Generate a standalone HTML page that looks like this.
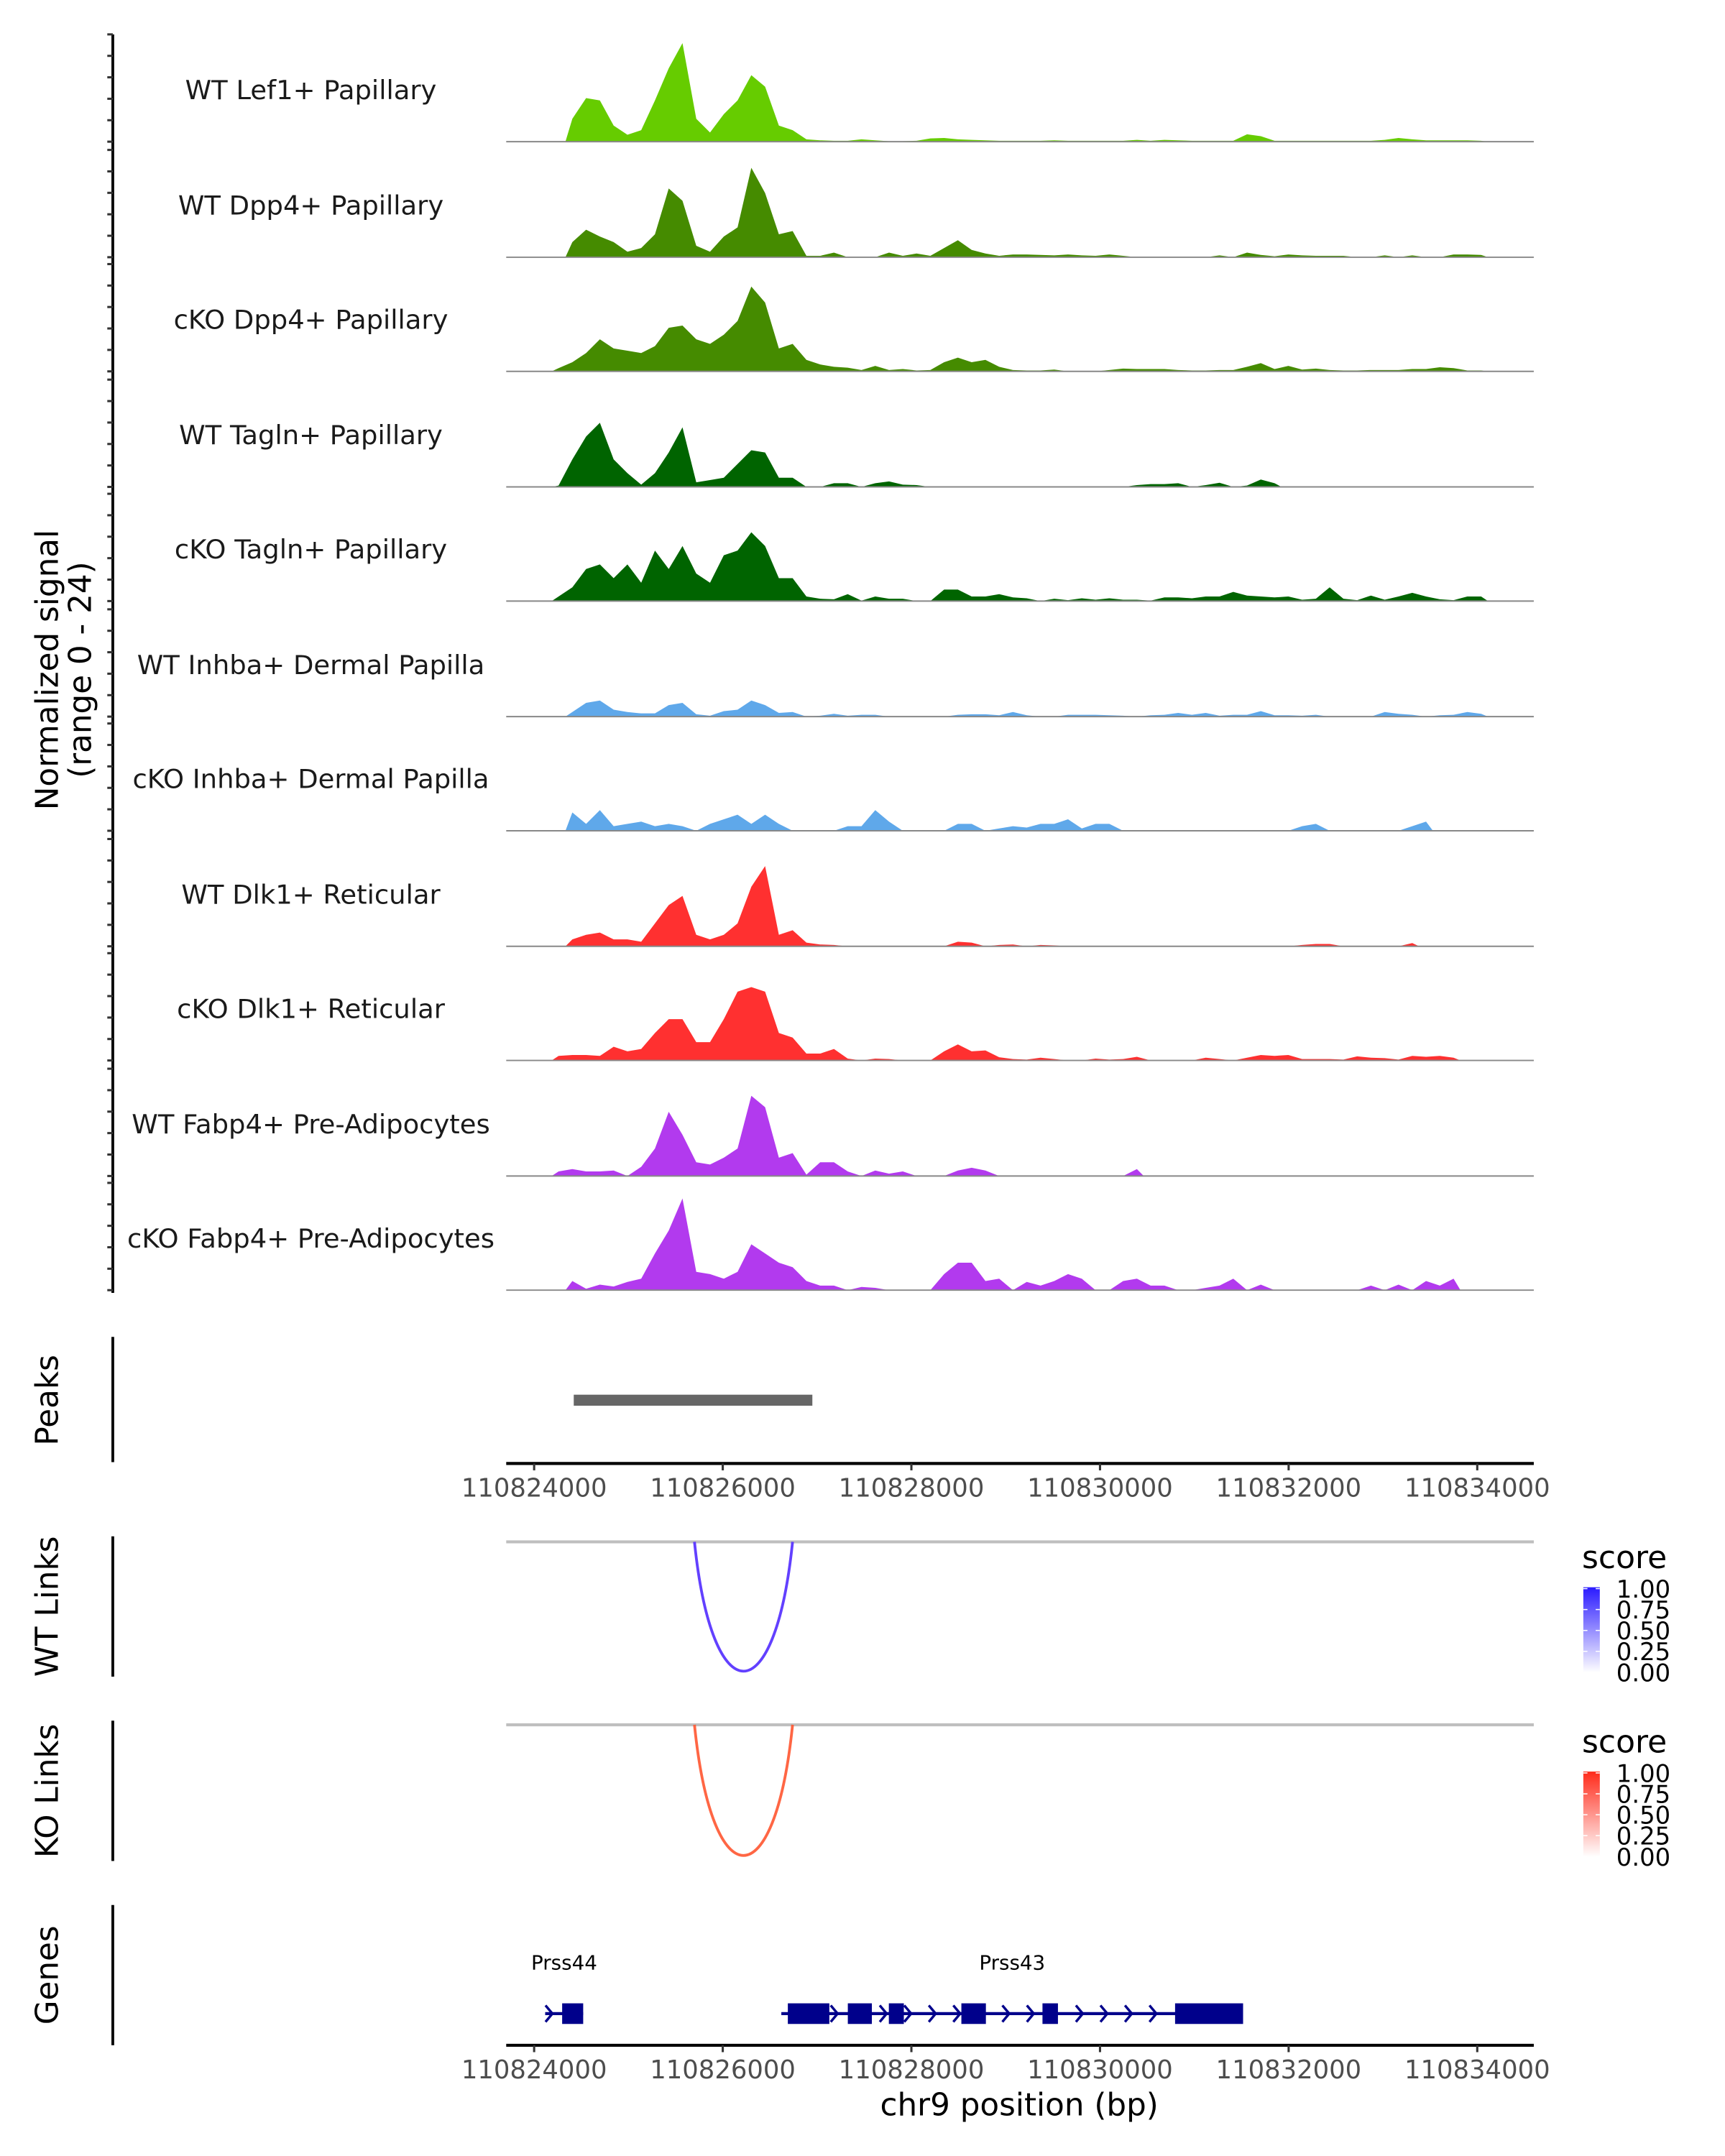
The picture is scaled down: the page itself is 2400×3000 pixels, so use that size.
<!DOCTYPE html>
<html><head><meta charset="utf-8"><title>Coverage plot</title>
<style>
html,body{margin:0;padding:0;background:#fff;}
svg{display:block;}
text{font-family:"DejaVu Sans","Liberation Sans",sans-serif;}
</style></head>
<body>
<svg id="fig" xmlns="http://www.w3.org/2000/svg" width="2400" height="3000" viewBox="0 0 1254 1567.5">
<defs>
<linearGradient id="gBlue" x1="0" y1="1" x2="0" y2="0"><stop offset="0" stop-color="#ffffff"/><stop offset="1" stop-color="#2a1aff"/></linearGradient>
<linearGradient id="gRed" x1="0" y1="1" x2="0" y2="0"><stop offset="0" stop-color="#ffffff"/><stop offset="1" stop-color="#ff2a1a"/></linearGradient>
</defs>
</svg>
<script>
// ---------- data ----------
const trackNames = ["WT Lef1+ Papillary","WT Dpp4+ Papillary","cKO Dpp4+ Papillary","WT Tagln+ Papillary","cKO Tagln+ Papillary","WT Inhba+ Dermal Papilla","cKO Inhba+ Dermal Papilla","WT Dlk1+ Reticular","cKO Dlk1+ Reticular","WT Fabp4+ Pre-Adipocytes","cKO Fabp4+ Pre-Adipocytes"];
const trackColors = ["#66cc00","#458b00","#458b00","#006400","#006400","#5fa8ea","#5fa8ea","#ff3030","#ff3030","#b23aee","#b23aee"];
const binStartBp = 110823821;
const binSizeBp = 146;
const sigLef1WT = [0,0,0,0,5,9.5,9,3.5,1.5,2.5,9,16,21.5,5,2,6,9,14.5,12,3.5,2.5,0.5,0.3,0.2,0.2,0.5,0.3,0.1,0.1,0.2,0.7,0.8,0.5,0.4,0.3,0.2,0.2,0.2,0.2,0.3,0.2,0.2,0.2,0.2,0.2,0.4,0.2,0.4,0.3,0.2,0.2,0.2,0.2,1.6,1.2,0.2,0.2,0.2,0.2,0.2,0.2,0.2,0.2,0.4,0.8,0.5,0.3,0.3,0.3,0.3,0.2];
const sigDpp4WT = [0,0,0,0,3.3,6,4.5,3.3,1.2,2,5,15,12.3,2.5,1.2,4.5,6.5,19.5,14,5,5.7,0.3,0.3,1,0,0,0,1,0.3,0.8,0.3,2,3.7,1.6,0.8,0.3,0.6,0.6,0.5,0.4,0.6,0.4,0.3,0.6,0.3,0,0,0,0,0,0,0.4,0,1,0.5,0.2,0.6,0.4,0.3,0.3,0.3,0,0,0.4,0,0.4,0,0,0.6,0.6,0.5];
const sigDpp4KO = [0,0,0,0.7,2,4,7,5,4.5,4,5.5,9.5,10,7,6,8,11,18.5,15,5,6,2.5,1.5,1,0.8,0.3,1.2,0.3,0.5,0.2,0.3,2,3,2,2.5,1,0.3,0.2,0.2,0.4,0,0,0,0.3,0.6,0.5,0.5,0.5,0.3,0.2,0.2,0.3,0.3,1,1.8,0.5,1.2,0.4,0.6,0.3,0.2,0.2,0.3,0.3,0.3,0.5,0.5,0.9,0.7,0.2,0.2];
const sigTaglnWT = [0,0,0,0.3,6,11,14,6,3,0.5,3,7.5,13,1,1.5,2,5,8,7.5,2,2,0,0,0.8,0.8,0,0.8,1.2,0.5,0.4,0,0,0,0,0,0,0,0,0,0,0,0,0,0,0,0.4,0.6,0.6,0.8,0,0.4,0.9,0,0.3,1.6,0.8,0,0,0,0,0,0,0,0,0,0,0,0,0,0,0];
const sigTaglnKO = [0,0,0,1,3,7,8,5,8,4,11,7,12,6,4,10,11,15,12,5,5,1,0.5,0.4,1.5,0.1,1,0.5,0.5,0,0,2.5,2.5,1,1,1.5,0.8,0.6,0,0.5,0.2,0.6,0.3,0.6,0.3,0.3,0.1,0.8,0.8,0.6,1,1,2,1.2,1,0.8,1,0.3,0.5,3,0.5,0.2,1.2,0.3,1,1.8,1,0.4,0.2,1,1];
const sigInhbaWT = [0,0,0,0,1,3,3.5,1.5,1,0.7,0.7,2.5,3,0.5,0.2,1.2,1.5,3.5,2.5,0.8,1,0,0.2,0.6,0.2,0.4,0.4,0,0,0,0,0,0.4,0.5,0.5,0.3,1,0.3,0,0,0.4,0.4,0.4,0.3,0.2,0,0.3,0.4,0.8,0.4,0.8,0.2,0.4,0.4,1.2,0.3,0.3,0.2,0.4,0,0,0,0,1,0.6,0.4,0,0.3,0.4,1,0.6];
const sigInhbaKO = [0,0,0,0,4,1.5,4.5,1,1.5,2,1,1.5,1,0,1.5,2.5,3.5,1.5,3.5,1.5,0,0,0,0,1,1,4.5,2,0,0,0,0,1.5,1.5,0,0.5,1,0.7,1.5,1.5,2.5,0.5,1.5,1.5,0,0,0,0,0,0,0,0,0,0,0,0,0,1,1.5,0,0,0,0,0,0,1,2,0,0,0,0];
const sigDlk1WT = [0,0,0,0,1.5,2.5,3,1.5,1.5,1,5,9,11,2.5,1.5,2.5,5,13,17.5,2.5,3.5,0.8,0.4,0.3,0,0,0,0,0,0,0,0,1,0.8,0,0.3,0.4,0,0.3,0.2,0,0,0,0,0,0,0,0,0,0,0,0,0,0,0,0,0,0.3,0.5,0.5,0,0,0,0,0,0.7,0,0,0,0,0];
const sigDlk1KO = [0,0,0,1,1.2,1.2,1,3,2,2.5,6,9,9,4,4,9,15,16,15,6,5,1.5,1.5,2.5,0.4,0,0.4,0.3,0,0,0,2,3.5,2,2.2,0.7,0.3,0.2,0.6,0.3,0,0,0.4,0.2,0.3,0.8,0,0,0,0,0.6,0.3,0,0.6,1.2,1,1.2,0.3,0.3,0.3,0.2,0.9,0.6,0.5,0.2,1,0.8,1,0.6,0,0];
const sigFabp4WT = [0,0,0,1,1.5,1,1,1.2,0,2,6,14,9,3,2.5,4,6,17.5,15,4,5,0.3,3,3,1,0,1.2,0.5,1,0,0,0,1.2,1.8,1.2,0,0,0,0,0,0,0,0,0,0,1.5,0,0,0,0,0,0,0,0,0,0,0,0,0,0,0,0,0,0,0,0,0,0,0,0,0];
const sigFabp4KO = [0,0,0,0,2,0.3,1.2,0.8,1.8,2.5,8,13,20,4,3.5,2.5,4,10,8,6,5,2,1,1,0,0.7,0.5,0,0,0,0,3.5,6,6,2,2.5,0,1.8,1,2,3.5,2.5,0,0,2,2.5,1,1,0,0,0.5,1,2.5,0,1.2,0,0,0,0,0,0,0,1,0,1.2,0,2,1,2.5,0,0];
const allSignals = [sigLef1WT,sigDpp4WT,sigDpp4KO,sigTaglnWT,sigTaglnKO,sigInhbaWT,sigInhbaKO,sigDlk1WT,sigDlk1KO,sigFabp4WT,sigFabp4KO];
const signalMax = 24;
const xTicks = [110824000,110826000,110828000,110830000,110832000,110834000];
const peakRegions = [[110824420,110826950]];
const linkStartBp = 110825700;
const linkEndBp = 110826740;
const linkScoreWT = 0.92;
const linkScoreKO = 0.9;
const legendTicks = ["1.00","0.75","0.50","0.25","0.00"];
const geneNames = ["Prss44","Prss43"];
const geneSpans = [[110824117,110824520],[110826621,110831517]];
const prss44Exons = [[110824297,110824520]];
const prss43Exons = [[110826690,110827130],[110827326,110827581],[110827761,110827920],[110828530,110828790],[110829390,110829554],[110830796,110831517]];

// ---------- scales ----------
const NS = "http://www.w3.org/2000/svg";
const svg = document.getElementById('fig');
const X0 = 368, X1 = 1115;
function x(bp){ return 388.3 + (bp - 110824000) * 0.06856; }
const trackBase = [103,187,270,354,437,521,604,688,771,855,938];
const trackH = 80;
function y(v, base){ return base - v / signalMax * trackH; }
function el(tag, attrs, parent){
  const e = document.createElementNS(NS, tag);
  for (const k in attrs) e.setAttribute(k, attrs[k]);
  (parent || svg).appendChild(e);
  return e;
}
function txt(s, attrs, parent){ const t = el('text', attrs, parent); t.textContent = s; return t; }

// ---------- left axis for tracks ----------
const la = el('line',{x1:82,y1:25,x2:82,y2:940,stroke:'#000','stroke-width':2});


trackBase.forEach(b => {
  for (let k = 0; k <= 5; k++) {
    const ty = b - k * 15.6;
    const tk = el('line',{x1:78,y1:ty,x2:82,y2:ty,stroke:'#333','stroke-width':1.6});
    
    
  }
});
const yt = txt('Normalized signal',{x:0,y:0,'font-size':22.8,'text-anchor':'middle',fill:'#000',transform:'translate(42,487) rotate(-90)'});


const yt2 = txt('(range 0 - 24)',{x:0,y:0,'font-size':22.8,'text-anchor':'middle',fill:'#000',transform:'translate(66,487) rotate(-90)'});



// ---------- tracks ----------
allSignals.forEach((sig, t) => {
  const base = trackBase[t];
  const g = el('g', {});
  
  
  let first = -1, last = -1;
  sig.forEach((v, i) => { if (v > 0) { if (first < 0) first = i; last = i; } });
  let d = '';
  if (first >= 0) {
    const sx = x(binStartBp + (first - 0.5) * binSizeBp);
    d = 'M' + sx + ',' + base;
    for (let i = first; i <= last; i++) {
      const cx = x(binStartBp + i * binSizeBp);
      d += ' L' + cx.toFixed(2) + ',' + y(sig[i], base).toFixed(2);
    }
    d += ' L' + x(binStartBp + (last + 0.5) * binSizeBp).toFixed(2) + ',' + base + ' Z';
  }
  const area = el('path', {d: d, fill: trackColors[t], stroke: 'none'}, g);
  
  
  const bl = el('line', {x1:X0,y1:base,x2:X1,y2:base,stroke:'#888','stroke-width':1}, g);
  
  
  const lab = txt(trackNames[t], {x:226,y:base-31,'font-size':19.3,'text-anchor':'middle',fill:'#1a1a1a'}, g);
  
  
});

// ---------- panel axes + titles ----------
function panelAxis(y1, y2, label, cy, name){
  const a = el('line',{x1:82,y1:y1,x2:82,y2:y2,stroke:'#000','stroke-width':2});
  
  
  const t = txt(label,{x:0,y:0,'font-size':22.8,'text-anchor':'middle',fill:'#000',transform:'translate(42,'+cy+') rotate(-90)'});
  
  
}
panelAxis(972,1063,'Peaks',1018,'peaks');
panelAxis(1117,1219,'WT Links',1168,'wt-links');
panelAxis(1251,1353,'KO Links',1302,'ko-links');
panelAxis(1385,1487,'Genes',1436,'genes');

// peaks
peakRegions.forEach(p => {
  const r = el('rect',{x:x(p[0]),y:1014,width:x(p[1])-x(p[0]),height:8,fill:'#666'});
  
  
});

// x axes
function xAxis(yy, name){
  const g = el('g',{});
  
  
  el('line',{x1:X0,y1:yy,x2:X1,y2:yy,stroke:'#000','stroke-width':2.2},g);
  xTicks.forEach(v => {
    const tx = x(v);
    const tk = el('line',{x1:tx,y1:yy,x2:tx,y2:yy+5,stroke:'#333','stroke-width':1.6},g);
    
    
    const tl = txt(String(v),{x:tx,y:yy+24,'font-size':18.5,'text-anchor':'middle',fill:'#4d4d4d'},g);
    
    
  });
}
xAxis(1064,'peaks-x-axis');
xAxis(1487,'genes-x-axis');
const xt = txt('chr9 position (bp)',{x:741,y:1538,'font-size':22.8,'text-anchor':'middle',fill:'#000'});



// links
function linkPanel(lineY, bottomY, score, color, grad, legendY, name){
  const g = el('g',{});
  
  
  el('line',{x1:X0,y1:lineY,x2:X1,y2:lineY,stroke:'#bfbfbf','stroke-width':2.2},g);
  const x1 = x(linkStartBp), x2 = x(linkEndBp);
  const cy = lineY + (bottomY - lineY) * 4 / 3;
  const arc = el('path',{d:'M'+x1+','+lineY+' C'+(x1+(x2-x1)*0.18)+','+cy+' '+(x2-(x2-x1)*0.18)+','+cy+' '+x2+','+lineY,fill:'none',stroke:color,'stroke-width':2,'stroke-opacity':score},g);
  
  
  const lt = txt('score',{x:1150,y:legendY,'font-size':23,fill:'#000'},g);
  
  
  const bar = el('rect',{x:1151,y:legendY+14,width:12,height:62,fill:'url(#'+grad+')'},g);
  
  
  legendTicks.forEach((s, i) => {
    const ty = legendY + 15 + i * 15.2;
    el('line',{x1:1151,y1:ty,x2:1154,y2:ty,stroke:'#fff','stroke-width':0.8},g);
    el('line',{x1:1160,y1:ty,x2:1163,y2:ty,stroke:'#fff','stroke-width':0.8},g);
    const l = txt(s,{x:1175,y:ty+6.5,'font-size':17.7,fill:'#000'},g);
    
    
  });
}
linkPanel(1121,1215,linkScoreWT,'#5530ff','gBlue',1140,'wt-links-panel');
linkPanel(1254,1349,linkScoreKO,'#ff5530','gRed',1274,'ko-links-panel');

// genes
const gy = 1464;
function drawGene(span, exons, name, label){
  const g = el('g',{});
  
  
  el('line',{x1:x(span[0]),y1:gy,x2:x(span[1]),y2:gy,stroke:'#00008b','stroke-width':2.2},g);
  for (let bp = span[0] + 40; bp < span[1]; bp += 260) {
    const inside = exons.some(e => bp > e[0] - 40 && bp < e[1] + 40);
    if (inside) continue;
    const cx = x(bp);
    const c = el('path',{d:'M'+(cx-2.5)+','+(gy-6)+' L'+(cx+2.5)+','+gy+' L'+(cx-2.5)+','+(gy+6),fill:'none',stroke:'#00008b','stroke-width':1.8},g);
    
    
  }
  exons.forEach(e => {
    const r = el('rect',{x:x(e[0]),y:gy-7.5,width:x(e[1])-x(e[0]),height:15,fill:'#00008b'},g);
    
    
  });
  const t = txt(label,{x:(x(span[0])+x(span[1]))/2,y:1432,'font-size':14.5,'text-anchor':'middle',fill:'#000'},g);
  
  
}
drawGene(geneSpans[0], prss44Exons, 'gene-prss44', geneNames[0]);
drawGene(geneSpans[1], prss43Exons, 'gene-prss43', geneNames[1]);
</script>
</body></html>
